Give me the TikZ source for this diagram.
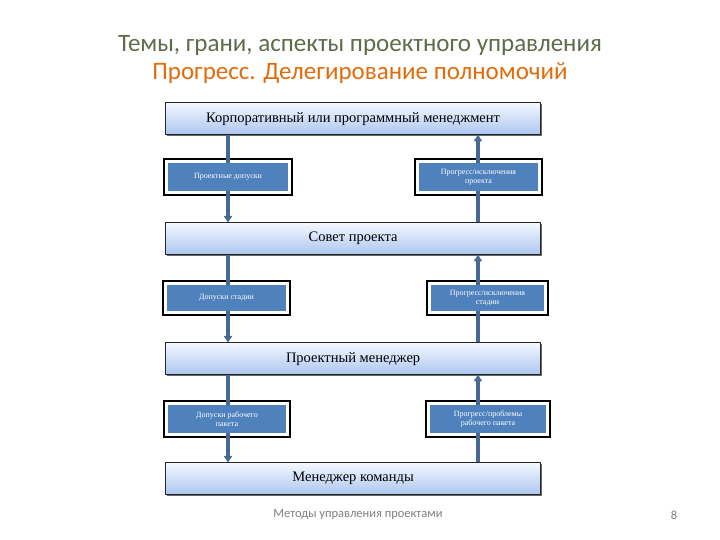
\documentclass[tikz,border=0pt]{standalone}
\usepackage{fontspec}
\setmainfont{Liberation Serif}
\newfontfamily\titlefont{Carlito}
\usetikzlibrary{arrows.meta}
\definecolor{titlegray}{RGB}{95,107,74}
\definecolor{titleorange}{RGB}{227,108,10}
\definecolor{bartop}{RGB}{244,248,255}
\definecolor{barbot}{RGB}{172,198,240}
\definecolor{boxblue}{RGB}{79,129,189}
\definecolor{connblue}{RGB}{70,104,146}
\definecolor{footgray}{RGB}{128,128,128}
\tikzset{
  bar/.style={draw=black!85, line width=1.2pt, top color=bartop, bottom color=barbot,
    minimum width=375pt, minimum height=32pt, inner sep=0pt, font=\fontsize{14.5}{16}\selectfont,
    anchor=north west},
  barshadow/.style={fill=black!60},
  boxouter/.style={draw=black, line width=1.5pt, fill=white},
  boxinner/.style={fill=boxblue, text=white, align=center, inner sep=0pt,
    font=\fontsize{8}{9.5}\selectfont},
  conn/.style={draw=connblue, line width=4pt},
  connarrow/.style={conn, -{Latex[round,length=7pt,width=10pt]}},
}
\begin{document}
\begin{tikzpicture}[x=1pt,y=-1pt]
\useasboundingbox[fill=white] (0,0) rectangle (720,540);
% titles
\node[font=\titlefont\fontsize{25}{28}\selectfont, text=titlegray] (t1) at (360,45) {Темы, грани, аспекты проектного управления};
\node[font=\titlefont\fontsize{25}{28}\selectfont, text=titleorange] (t2) at (360,73) {Прогресс. Делегирование полномочий};
% bars shadows
\foreach \y in {102,222,342,462} {
  \fill[barshadow] (167,\y+2) rectangle (542,\y+34);
}
\node[bar] (b1) at (165,102) {Корпоративный или программный менеджмент};
\node[bar] (b2) at (165,222) {Совет проекта};
\node[bar] (b3) at (165,342) {Проектный менеджер};
\node[bar] (b4) at (165,462) {Менеджер команды};
% small boxes: outer frames
\draw[boxouter] (164,159) rectangle (292,195);
\draw[boxouter] (415,159) rectangle (542,195);
\draw[boxouter] (163,281) rectangle (290,315);
\draw[boxouter] (427,281) rectangle (548,315);
\draw[boxouter] (164,401) rectangle (290,437);
\draw[boxouter] (426,401) rectangle (550,437);
% inner blue boxes
\node[boxinner, minimum width=120pt, minimum height=28pt] (l1) at (228,177) {Проектные допуски};
\node[boxinner, minimum width=119pt, minimum height=28pt] (r1) at (478.5,177) {Прогресс/исключения\\проекта};
\node[boxinner, minimum width=119pt, minimum height=26pt] (l2) at (226.5,298) {Допуски стадии};
\node[boxinner, minimum width=113pt, minimum height=26pt] (r2) at (487.5,298) {Прогресс/исключения\\стадии};
\node[boxinner, minimum width=118pt, minimum height=28pt] (l3) at (227,419) {Допуски рабочего\\пакета};
\node[boxinner, minimum width=116pt, minimum height=28pt] (r3) at (488,419) {Прогресс/проблемы\\рабочего пакета};
% connectors
\coordinate (xl) at (228,0);
\coordinate (xr) at (478,0);
\draw[conn] (b1.south -| xl) -- (l1.north -| xl);
\draw[connarrow] (l1.south -| xl) -- (b2.north -| xl);
\draw[connarrow] (r1.north -| xr) -- (b1.south -| xr);
\draw[conn] (b2.north -| xr) -- (r1.south -| xr);
\draw[conn] (b2.south -| xl) -- (l2.north -| xl);
\draw[connarrow] (l2.south -| xl) -- (b3.north -| xl);
\draw[connarrow] (r2.north -| xr) -- (b2.south -| xr);
\draw[conn] (b3.north -| xr) -- (r2.south -| xr);
\draw[conn] (b3.south -| xl) -- (l3.north -| xl);
\draw[connarrow] (l3.south -| xl) -- (b4.north -| xl);
\draw[connarrow] (r3.north -| xr) -- (b3.south -| xr);
\draw[conn] (b4.north -| xr) -- (r3.south -| xr);
% footer
\node[font=\titlefont\fontsize{12.5}{14}\selectfont, text=footgray] (f1) at (358,515) {Методы управления проектами};
\node[font=\titlefont\fontsize{12.5}{14}\selectfont, text=footgray] (f2) at (674,515) {8};
\end{tikzpicture}
\end{document}
